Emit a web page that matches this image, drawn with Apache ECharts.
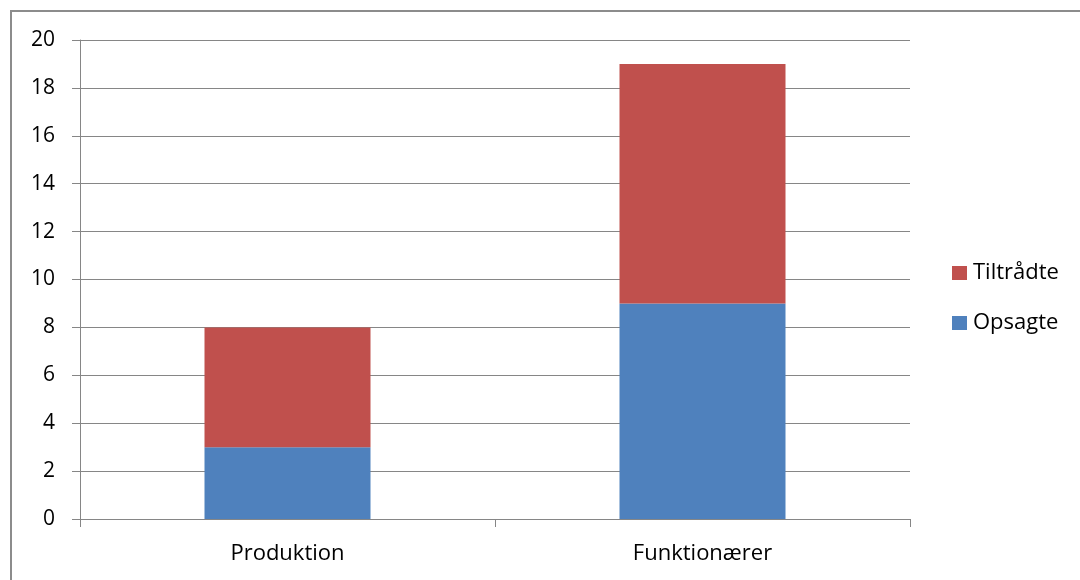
<!DOCTYPE html>
<html>
<head>
<meta charset="utf-8">
<script src="https://cdn.jsdelivr.net/npm/echarts@6/dist/echarts.min.js"></script>
<style>
  html, body { margin: 0; padding: 0; background: #fff; }
  #chart { width: 1080px; height: 580px; }
</style>
</head>
<body>
<div id="chart"></div>
<script>
// Staff changes per department
const categories = ['Produktion', 'Funktionærer'];
const opsagte = [3, 9];
const tiltraadte = [5, 10];
const yTicks = { min: 0, max: 20, interval: 2 };

const FONT = '"Open Sans", Lato, sans-serif';
const GRID_COLOR = '#868686';

const chart = echarts.init(document.getElementById('chart'));
chart.setOption({
  animation: false,
  textStyle: { fontFamily: FONT },
  graphic: [{
    type: 'rect',
    shape: { x: 11, y: 11, width: 1200, height: 700 },
    style: { fill: 'none', stroke: '#8c8c8c', lineWidth: 2 },
    silent: true
  }],
  grid: { left: 80, right: 170, top: 40, bottom: 61 },
  legend: {
    orient: 'vertical',
    left: 952,
    top: 262,
    padding: 0,
    itemWidth: 15,
    itemHeight: 14,
    itemGap: 28,
    icon: 'rect',
    data: ['Tiltrådte', 'Opsagte'],
    textStyle: { fontFamily: FONT, fontSize: 22, lineHeight: 22, color: '#000', padding: [0, 0, 0, 1] }
  },
  xAxis: {
    type: 'category',
    data: categories,
    axisLine: { lineStyle: { color: GRID_COLOR, width: 1 } },
    axisTick: { show: true, length: 8, inside: false, lineStyle: { color: GRID_COLOR } },
    axisLabel: { fontFamily: FONT, fontSize: 22, color: '#000', margin: 24 }
  },
  yAxis: {
    type: 'value',
    min: yTicks.min,
    max: yTicks.max,
    interval: yTicks.interval,
    axisLine: { show: true, lineStyle: { color: GRID_COLOR, width: 1 } },
    axisTick: { show: true, length: 8, lineStyle: { color: GRID_COLOR } },
    splitLine: { lineStyle: { color: GRID_COLOR, width: 1 } },
    axisLabel: { fontFamily: FONT, fontSize: 21, color: '#000', margin: 25 }
  },
  series: [
    {
      name: 'Opsagte',
      type: 'bar',
      stack: 'total',
      data: opsagte,
      barWidth: '40%',
      itemStyle: { color: '#4F81BD' }
    },
    {
      name: 'Tiltrådte',
      type: 'bar',
      stack: 'total',
      data: tiltraadte,
      barWidth: '40%',
      itemStyle: { color: '#C0504D' }
    }
  ]
});
</script>
</body>
</html>
